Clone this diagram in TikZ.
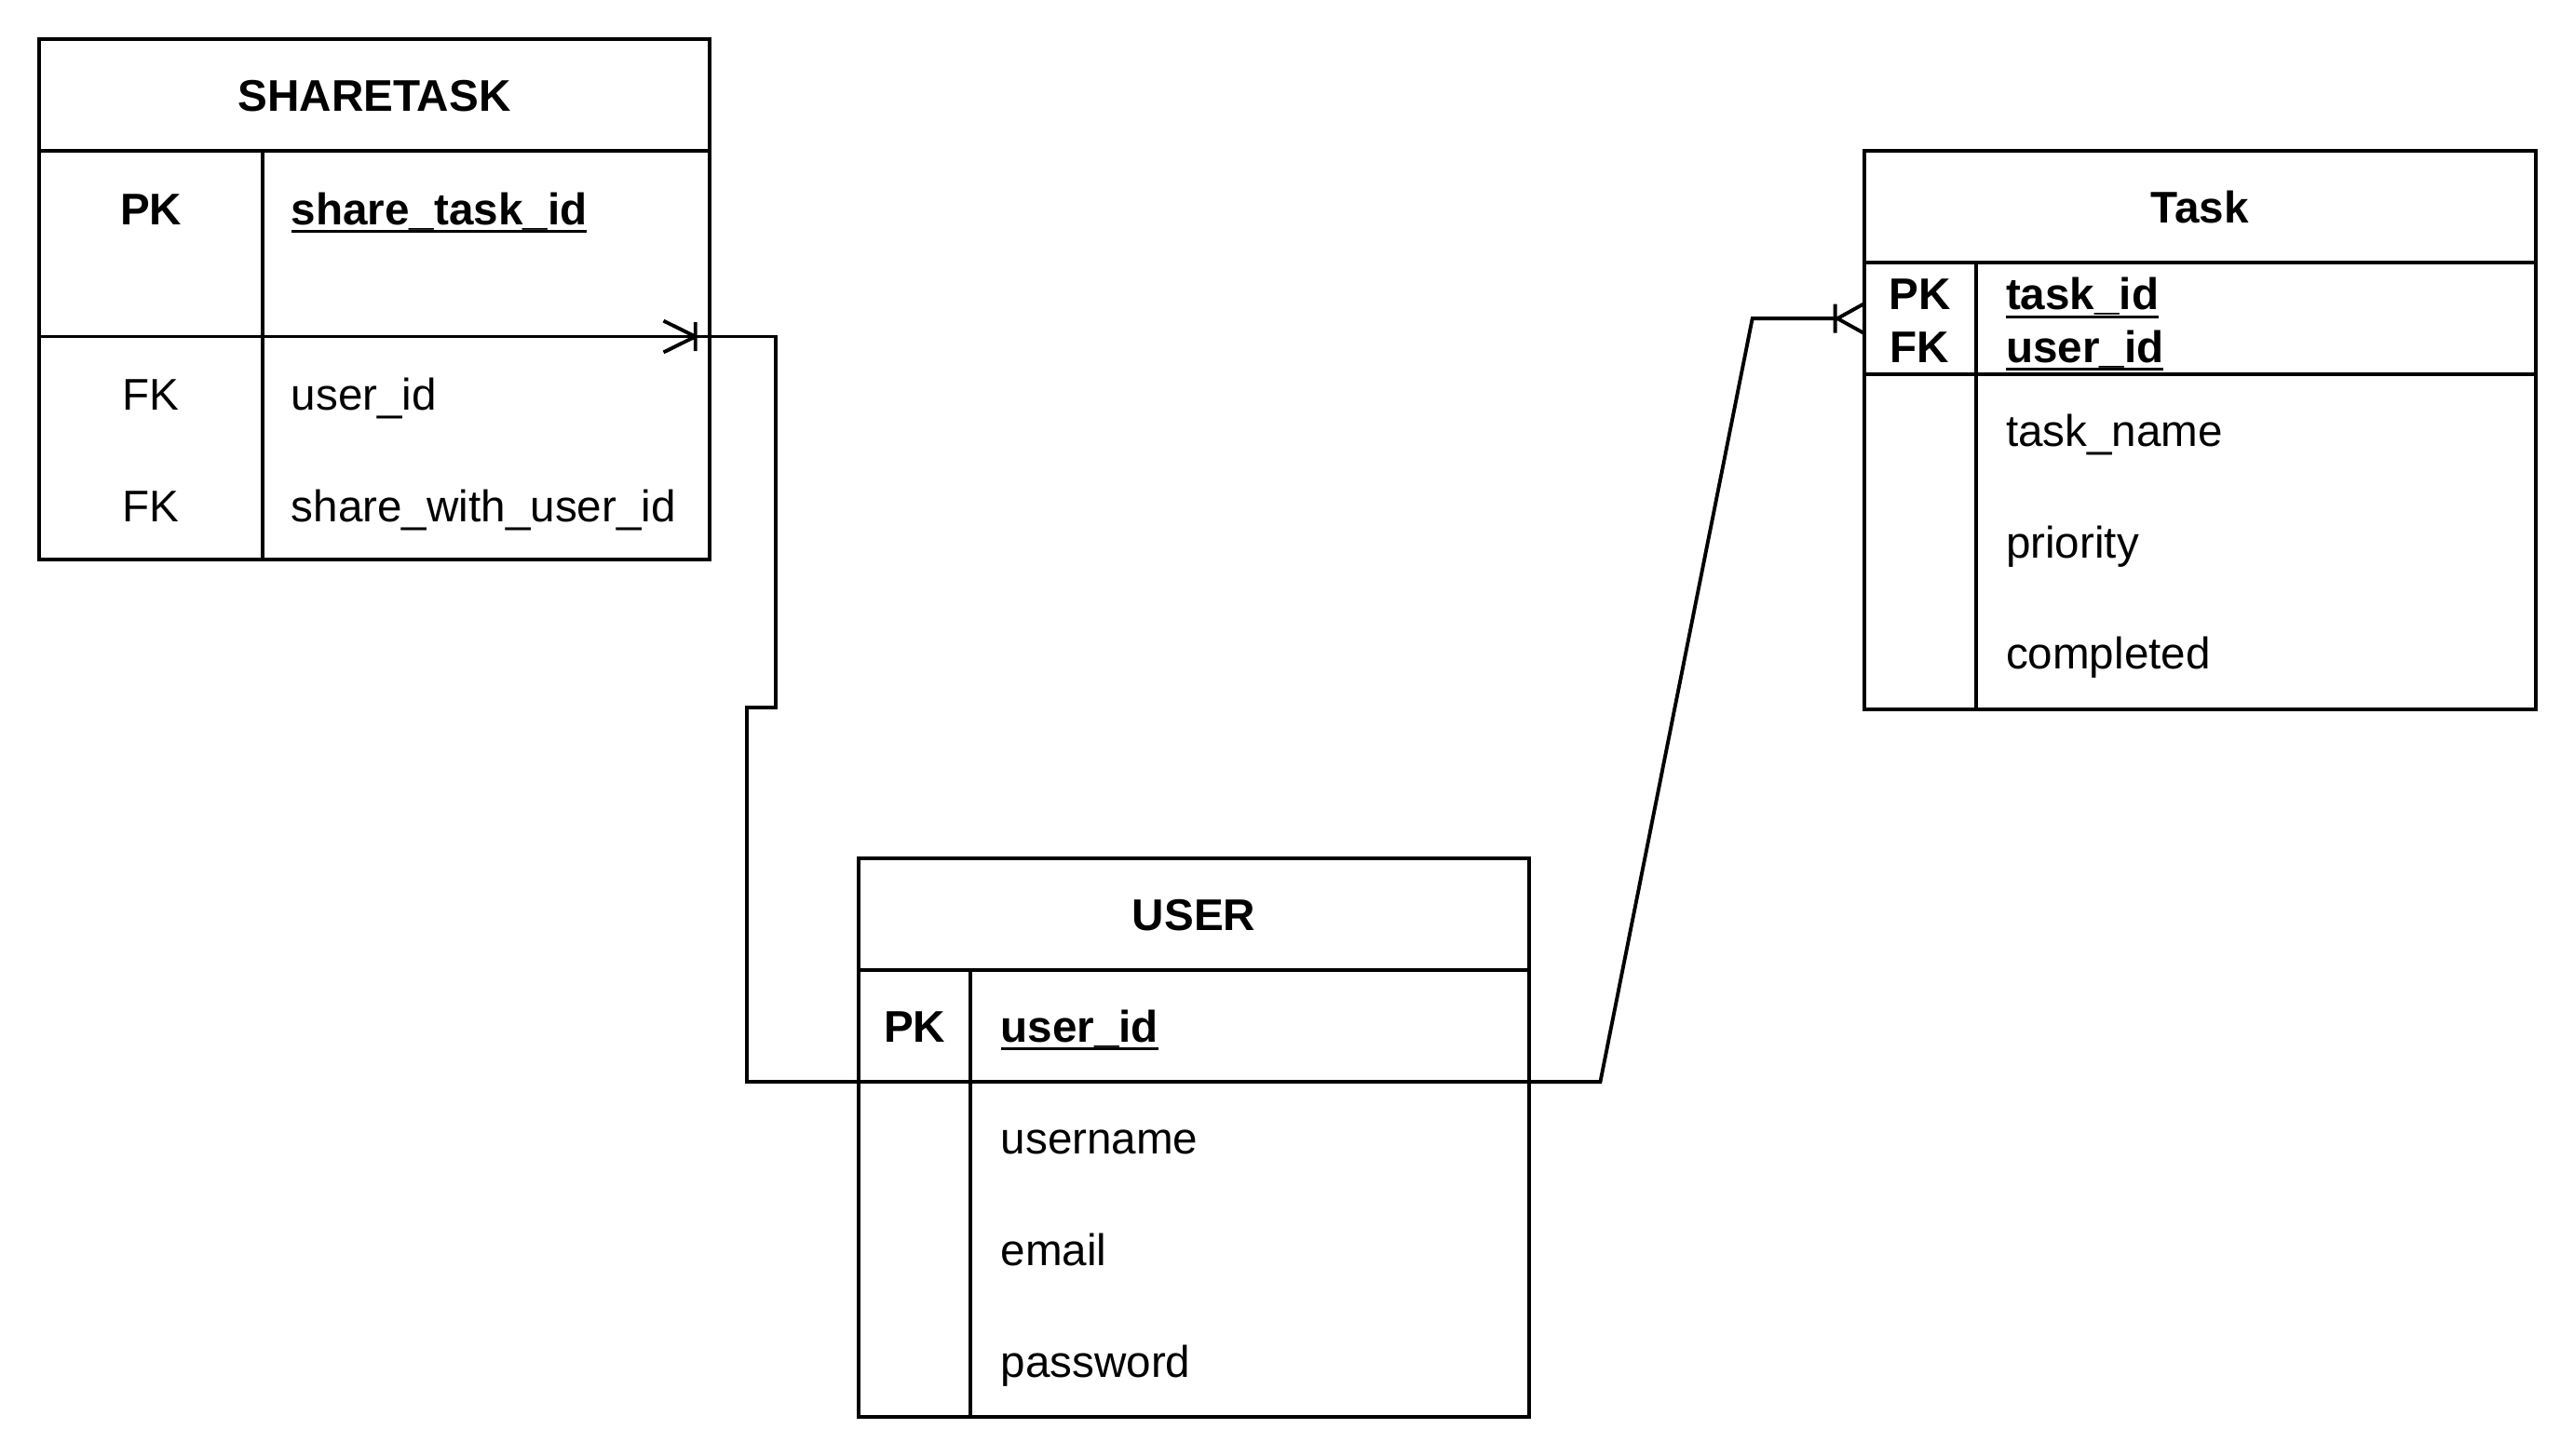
\documentclass[tikz,border=0pt]{standalone}
\usepackage{fontspec}
\setmainfont{Liberation Sans}
\usetikzlibrary{calc}
\usetikzlibrary{positioning}

\newcommand{\erfont}{\fontsize{13.5}{16}\selectfont}
\newcommand{\keyfield}[1]{\setbox0\hbox{\bfseries #1}\rlap{\rule[-2.6pt]{\wd0}{0.85pt}}\box0}

\tikzset{
  ent/.style={draw, line width=1.1pt, inner sep=0pt, outer sep=0pt, anchor=north west, minimum width=204pt},
  head/.style={ent, minimum height=34pt, text height=9.7pt, text depth=0pt, font=\erfont\bfseries},
  txt/.style={inner sep=0pt, text height=9.7pt, text depth=0pt},
  col/.style={txt, anchor=center},
  fld/.style={txt, anchor=west},
  rel/.style={line width=1.1pt},
}

\begin{document}
\begin{tikzpicture}[x=1pt, y=-1pt, font=\erfont]
  \useasboundingbox (0,0) rectangle (783.65,443.4);

  % SHARETASK
  \node[head] (st) at (12,12) {SHARETASK};
  \node[ent, minimum height=56.5pt] (st-pk) at (st.south west) {};
  \node[ent, minimum height=68pt] (st-fk) at (st-pk.south west) {};
  \draw[rel] ($(st-pk.north west)+(68,0)$) -- ($(st-fk.south west)+(68,0)$);
  \node[col] (st-pk-k) at ($(st-pk.north west)+(34,17.5)$) {\bfseries PK};
  \node[fld] (st-pk-f) at ($(st-pk.north west)+(76.5,17.5)$) {\keyfield{share\_task\_id}};
  \node[col] (st-fk1-k) at ($(st-fk.north west)+(34,17.5)$) {FK};
  \node[fld] (st-fk1-f) at ($(st-fk.north west)+(76.5,17.5)$) {user\_id};
  \node[col] (st-fk2-k) at ($(st-fk.north west)+(34,51.5)$) {FK};
  \node[fld] (st-fk2-f) at ($(st-fk.north west)+(76.5,51.5)$) {share\_with\_user\_id};

  % Task
  \node[head, minimum width=204.5pt] (tk) at (567.5,46) {Task};
  \node[ent, minimum width=204.5pt, minimum height=34pt] (tk-key) at (tk.south west) {};
  \node[ent, minimum width=204.5pt, minimum height=102pt] (tk-attr) at (tk-key.south west) {};
  \draw[rel] ($(tk-key.north west)+(34,0)$) -- ($(tk-attr.south west)+(34,0)$);
  \node[col] (tk-pk-k) at ($(tk-key.north west)+(17,9.5)$) {\bfseries PK};
  \node[col] (tk-fk-k) at ($(tk-key.north west)+(17,25.5)$) {\bfseries FK};
  \node[fld] (tk-pk-f) at ($(tk-key.north west)+(43,9.5)$) {\keyfield{task\_id}};
  \node[fld] (tk-fk-f) at ($(tk-key.north west)+(43,25.5)$) {\keyfield{user\_id}};
  \node[fld] (tk-a1) at ($(tk-attr.north west)+(43,17)$) {task\_name};
  \node[fld] (tk-a2) at ($(tk-attr.north west)+(43,51)$) {priority};
  \node[fld] (tk-a3) at ($(tk-attr.north west)+(43,85)$) {completed};

  % USER
  \node[head] (user) at (261.5,261.5) {USER};
  \node[ent, minimum height=34pt] (user-key) at (user.south west) {};
  \node[ent, minimum height=102pt] (user-attr) at (user-key.south west) {};
  \draw[rel] ($(user-key.north west)+(34,0)$) -- ($(user-attr.south west)+(34,0)$);
  \node[col] (user-pk-k) at ($(user-key.north west)+(17,17)$) {\bfseries PK};
  \node[fld] (user-pk-f) at ($(user-key.north west)+(43,17)$) {\keyfield{user\_id}};
  \node[fld] (user-a1) at ($(user-attr.north west)+(43,17)$) {username};
  \node[fld] (user-a2) at ($(user-attr.north west)+(43,51)$) {email};
  \node[fld] (user-a3) at ($(user-attr.north west)+(43,85)$) {password};

  % relations
  \coordinate (st-foot) at ($(st-pk.south east)+(-4.3,0)$);
  \draw[rel] (user-key.south west) -- (227.3,329.5) -- (227.3,215.5)
    -- (236.2,215.5) -- (236.2,102.5) -- (st-foot);
  \draw[rel] (st-foot) -- ++(-9.7,-4.8) (st-foot) -- ++(-9.7,4.8)
    ($(st-foot)+(0,-4.4)$) -- ++(0,8.8);

  \coordinate (tk-foot) at ($(tk-key.west)+(-8.1,0)$);
  \draw[rel] (user-key.south east) -- (487.2,329.5) -- (533.5,97) -- (tk-foot);
  \draw[rel] (tk-foot) -- ++(8.1,-4.5) (tk-foot) -- ++(8.1,4.5)
    ($(tk-foot)+(-0.7,-4.4)$) -- ++(0,8.8);
\end{tikzpicture}
\end{document}
